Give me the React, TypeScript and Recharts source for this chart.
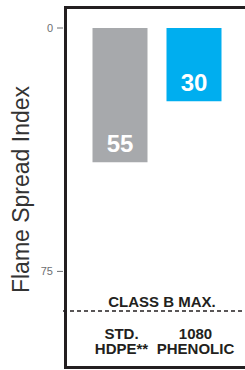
import { BarChart, Bar, XAxis, YAxis, ReferenceLine, LabelList, Label, Cell } from "recharts";

const categories = ["STD.\nHDPE**", "1080\nPHENOLIC"];
const flameSpread = [55, 30];
const barColors = ["#a7a9ac", "#00aeef"];
const axisTicks = [0, 75];

const data = categories.map((name, i) => ({ name, value: flameSpread[i] }));

const FONT = "'Liberation Sans', Arial, Helvetica, sans-serif";
const INK = "#231f20";

// the printed axis and the bars use different scales in the original
const BAR_MAX = 116;
const TICK_MAX = 87.2;

function CategoryTick({ x, y, payload }: any) {
  const lines = String(payload.value).split("\n");
  return (
    <g>
      {lines.map((line, i) => (
        <text
          key={i}
          x={x + 2}
          y={y + 28 + i * 15}
          textAnchor="middle"
          fill={INK}
          fontSize={15}
          fontWeight="bold"
          fontFamily={FONT}
        >
          {line}
        </text>
      ))}
    </g>
  );
}

function AxisTitle({ viewBox }: any) {
  const cx = viewBox.x + 29;
  const cy = viewBox.y + viewBox.height / 2 + 20;
  return (
    <text
      transform={`translate(${cx}, ${cy}) rotate(-90)`}
      textAnchor="middle"
      fill="#333"
      fontSize={23}
      fontFamily={FONT}
    >
      Flame Spread Index
    </text>
  );
}

export default function App() {
  return (
    <div style={{ position: "fixed", left: 0, top: 0, width: 245, height: 370, overflow: "hidden", background: "#fff" }}>
      <div
        style={{ position: "absolute", left: 64, top: 6, width: 260, height: 357, border: `3px solid ${INK}` }}
      />
      <BarChart
        width={245}
        height={370}
        data={data}
        margin={{ top: 28, right: 0, bottom: 0, left: 0 }}
        style={{ position: "absolute", left: 0, top: 0 }}
      >
        <XAxis
          dataKey="name"
          padding={{ left: 19.5, right: 14.5 }}
          axisLine={false}
          tickLine={false}
          tickSize={0}
          tickMargin={0}
          height={59}
          interval={0}
          tick={<CategoryTick />}
        />
        <YAxis
          yAxisId="ticks"
          type="number"
          reversed
          domain={[0, TICK_MAX]}
          allowDataOverflow
          ticks={axisTicks}
          width={63}
          tickSize={6}
          tickMargin={4}
          axisLine={false}
          tickLine={{ stroke: "#6d6e71" }}
          tick={{ fill: "#6d6e71", fontSize: 11, fontFamily: FONT }}
        >
          <Label content={<AxisTitle />} />
        </YAxis>
        <YAxis yAxisId="bars" hide width={0} reversed domain={[0, BAR_MAX]} allowDataOverflow />
        <Bar yAxisId="bars" dataKey="value" barSize={55} isAnimationActive={false}>
          {data.map((d, i) => (
            <Cell key={d.name} fill={barColors[i]} />
          ))}
          <LabelList
            dataKey="value"
            position="insideTop"
            offset={10}
            fill="#fff"
            fontSize={24}
            fontWeight="bold"
            fontFamily={FONT}
          />
        </Bar>
        <ReferenceLine yAxisId="ticks" y={TICK_MAX} stroke={INK} strokeDasharray="4 3" strokeWidth={1.5}>
          <Label
            value="CLASS B MAX."
            position="top"
            offset={4}
            dx={8}
            fill={INK}
            fontSize={15}
            fontWeight="bold"
            fontFamily={FONT}
          />
        </ReferenceLine>
      </BarChart>
    </div>
  );
}
